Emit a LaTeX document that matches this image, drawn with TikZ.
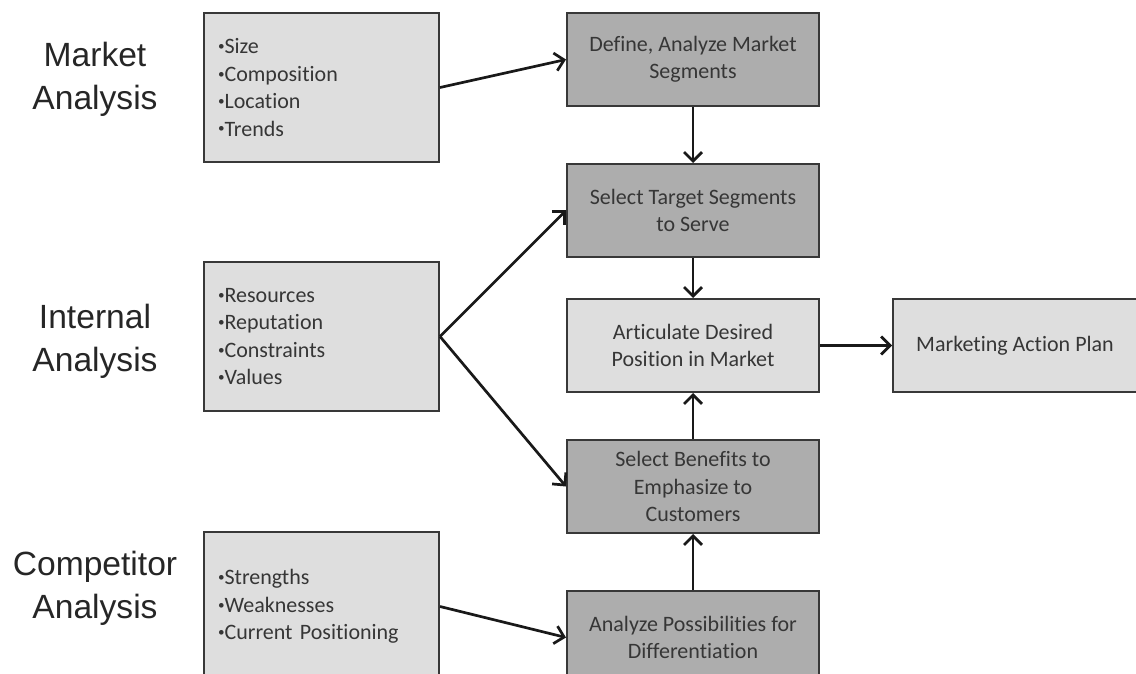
\documentclass[tikz,border=0pt]{standalone}
\usepackage{fontspec}
\setmainfont{Carlito}[Ligatures=NoCommon]
\newfontfamily\labelfont{Liberation Sans}
\usepackage{xcolor}
\usepackage{tikz}
\usetikzlibrary{positioning,arrows.meta}

\definecolor{lightbox}{HTML}{DEDEDE}
\definecolor{darkbox}{HTML}{ADADAD}
\definecolor{boxline}{HTML}{383838}
\definecolor{boxtext}{HTML}{363636}

\newcommand{\bul}{\raisebox{0.3ex}{\scalebox{0.6}{•}}}

\begin{document}
\begin{tikzpicture}[
    x=0.5pt, y=-0.5pt,
    factors/.style={rectangle, draw=boxline, line width=1pt, fill=lightbox, text=boxtext, minimum width=117.5pt, minimum height=74.5pt, text width=103.5pt, inner xsep=7pt, align=left, font=\fontsize{11}{13.7}\selectfont},
    stage/.style={rectangle, draw=boxline, line width=1pt, fill=darkbox, text=boxtext, minimum width=126pt, minimum height=46.5pt, align=center, font=\fontsize{11}{13.7}\selectfont},
    goal/.style={stage, fill=lightbox},
    plan/.style={goal, minimum width=122pt},
    heading/.style={align=center, text=black!85, font=\labelfont\fontsize{16.8}{21.5}\selectfont},
    flow/.style={line width=1.35pt, black!90, -{Straight Barb[length=4.5pt,width=9pt]}}
]
\useasboundingbox (0,0) rectangle (1136,674);

% Left column
\node[factors] (market_box) at (321.5,87.5) {\bul Size\\\bul Composition\\\bul Location\\\bul Trends};
\node[factors] (internal_box) [below=49pt of market_box] {\bul Resources\\\bul Reputation\\\bul Constraints\\\bul Values};
\node[factors] (competitor_box) [below=59.5pt of internal_box] {\bul Strengths\\\bul Weaknesses\\\bul Current Positioning};

% Headings
\node[heading] (market_label) at (95,79) {Market\\Analysis};
\node[heading] (internal_label) at (95,341) {Internal\\Analysis};
\node[heading] (competitor_label) at (95,588) {Competitor\\Analysis};

% Middle column
\node[stage] (define_segments) at (693,59.5) {Define, Analyze Market\\Segments};
\node[stage] (target_segments) [below=28pt of define_segments] {Select Target Segments\\to Serve};
\node[goal] (desired_position) [below=20pt of target_segments] {Articulate Desired\\Position in Market};
\node[stage] (select_benefits) [below=23pt of desired_position] {Select Benefits to\\Emphasize to\\Customers};
\node[stage] (differentiation) [below=28pt of select_benefits] {Analyze Possibilities for\\Differentiation};

% Right column
\node[plan] (action_plan) [right=36pt of desired_position] {Marketing Action Plan};

% Connections
\draw[flow] (market_box.east) -- (define_segments.west);
\draw[flow] (internal_box.east) -- (target_segments.west);
\draw[flow] (internal_box.east) -- (select_benefits.west);
\draw[flow] (competitor_box.east) -- (differentiation.west);
\draw[flow] (define_segments) -- (target_segments);
\draw[flow] (target_segments) -- (desired_position);
\draw[flow] (select_benefits) -- (desired_position);
\draw[flow] (differentiation) -- (select_benefits);
\draw[flow] (desired_position) -- (action_plan);

\end{tikzpicture}
\end{document}
